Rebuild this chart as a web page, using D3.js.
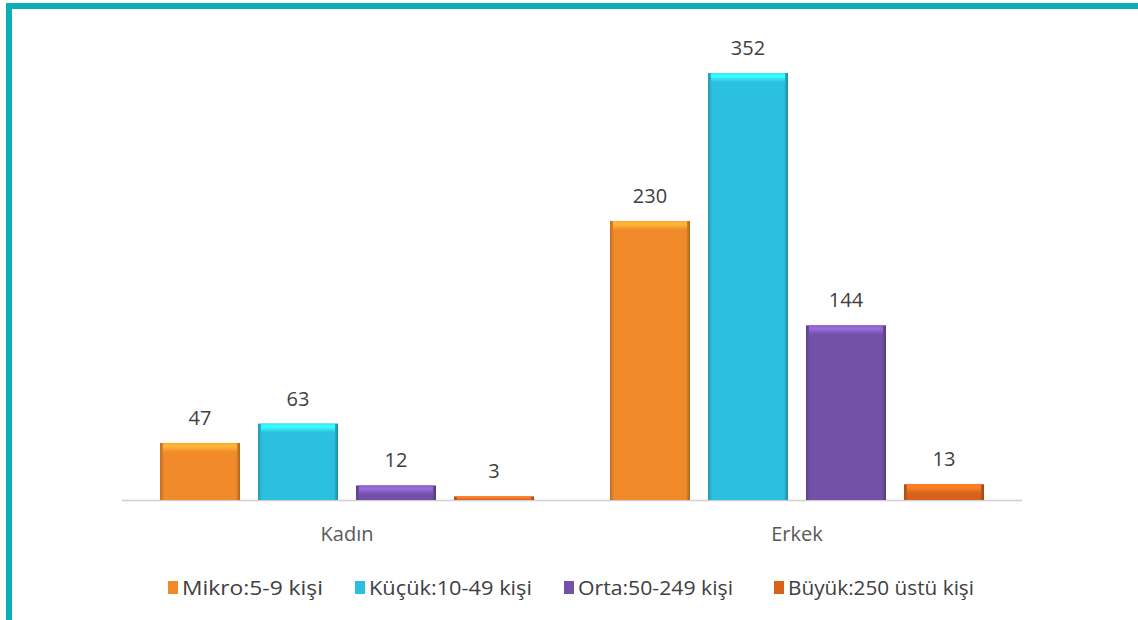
<!DOCTYPE html>
<html><head><meta charset="utf-8">
<script src="https://cdn.jsdelivr.net/npm/d3@7"></script>
<style>body{margin:0;background:#fff;} svg{display:block;font-family:"Open Sans","Noto Sans",sans-serif;}</style>
</head><body>
<svg id="c" width="1138" height="620"></svg>
<script>
const groups = ["Kadın", "Erkek"];
const seriesNames = ["Mikro:5-9 kişi", "Küçük:10-49 kişi", "Orta:50-249 kişi", "Büyük:250 üstü kişi"];
const mikro = [47, 230];
const kucuk = [63, 352];
const orta = [12, 144];
const buyuk = [3, 13];
const seriesColors = ["#f08a2a", "#2cc0e0", "#7451a8", "#d6621c"];

const values = [mikro, kucuk, orta, buyuk];
const svg = d3.select("#c");
const W = 1138, H = 620;

// frame
svg.append("rect").attr("x", 0).attr("y", 0).attr("width", W).attr("height", H).attr("fill", "#fff");
svg.append("rect").attr("x", 6).attr("y", 3).attr("width", W - 6).attr("height", 6).attr("fill", "#0aafb8");
svg.append("rect").attr("x", 6).attr("y", 3).attr("width", 6).attr("height", H - 3).attr("fill", "#0aafb8");

const baseY = 500, topY = 73;
const y = d3.scaleLinear().domain([0, 352]).range([baseY, topY]);
const x0 = d3.scaleBand().domain(groups).range([122, 1022]).paddingInner(0.169).paddingOuter(0.0845);
const x1 = d3.scaleBand().domain(d3.range(4)).range([0, x0.bandwidth()]).paddingInner(0.184).paddingOuter(0);

const defs = svg.append("defs");
seriesColors.forEach((c, i) => {
  const col = d3.color(c);
  const g = defs.append("linearGradient").attr("id", "h" + i).attr("x1", 0).attr("x2", 1).attr("y1", 0).attr("y2", 0);
  g.append("stop").attr("offset", "0%").attr("stop-color", col.darker(0.7));
  g.append("stop").attr("offset", "5%").attr("stop-color", c);
  g.append("stop").attr("offset", "95%").attr("stop-color", c);
  g.append("stop").attr("offset", "100%").attr("stop-color", col.darker(1.0));
  const v = defs.append("linearGradient").attr("id", "v" + i).attr("x1", 0).attr("x2", 0).attr("y1", 0).attr("y2", 1);
  v.append("stop").attr("offset", "0%").attr("stop-color", col.brighter(0.5));
  v.append("stop").attr("offset", "35%").attr("stop-color", col.brighter(0.8));
  v.append("stop").attr("offset", "100%").attr("stop-color", c);
});

// axis line
svg.append("line").attr("x1", 122).attr("x2", 1022).attr("y1", baseY + 0.5).attr("y2", baseY + 0.5)
  .attr("stroke", "#d0d0d0").attr("stroke-width", 1.5);

groups.forEach((gname, gi) => {
  const gx = x0(gname);
  values.forEach((arr, si) => {
    const v = arr[gi];
    const bx = gx + x1(si), bw = x1.bandwidth();
    const by = y(v), bh = baseY - by;
    svg.append("rect").attr("x", bx).attr("y", by).attr("width", bw).attr("height", bh).attr("fill", `url(#h${si})`);
    const bev = Math.min(9, bh);
    svg.append("rect").attr("x", bx + 3).attr("y", by).attr("width", bw - 6).attr("height", bev).attr("fill", `url(#v${si})`);
    svg.append("text").attr("x", bx + bw / 2).attr("y", by - 18).attr("text-anchor", "middle")
      .attr("font-size", 20).attr("fill", "#404040").text(v);
  });
  svg.append("text").attr("x", gx + x0.bandwidth() / 2).attr("y", 541).attr("text-anchor", "middle")
    .attr("font-size", 20).attr("fill", "#595959").text(gname);
});

// legend
const legX = [168, 355, 564, 774];
const legW = [141, 163, 155, 186];
seriesNames.forEach((n, i) => {
  svg.append("rect").attr("x", legX[i]).attr("y", 581).attr("width", 10).attr("height", 13).attr("fill", `url(#h${i})`);
  svg.append("text").attr("x", legX[i] + 14).attr("y", 595).attr("font-size", 20).attr("fill", "#404040")
    .attr("textLength", legW[i]).attr("lengthAdjust", "spacingAndGlyphs").text(n);
});
</script>
</body></html>
